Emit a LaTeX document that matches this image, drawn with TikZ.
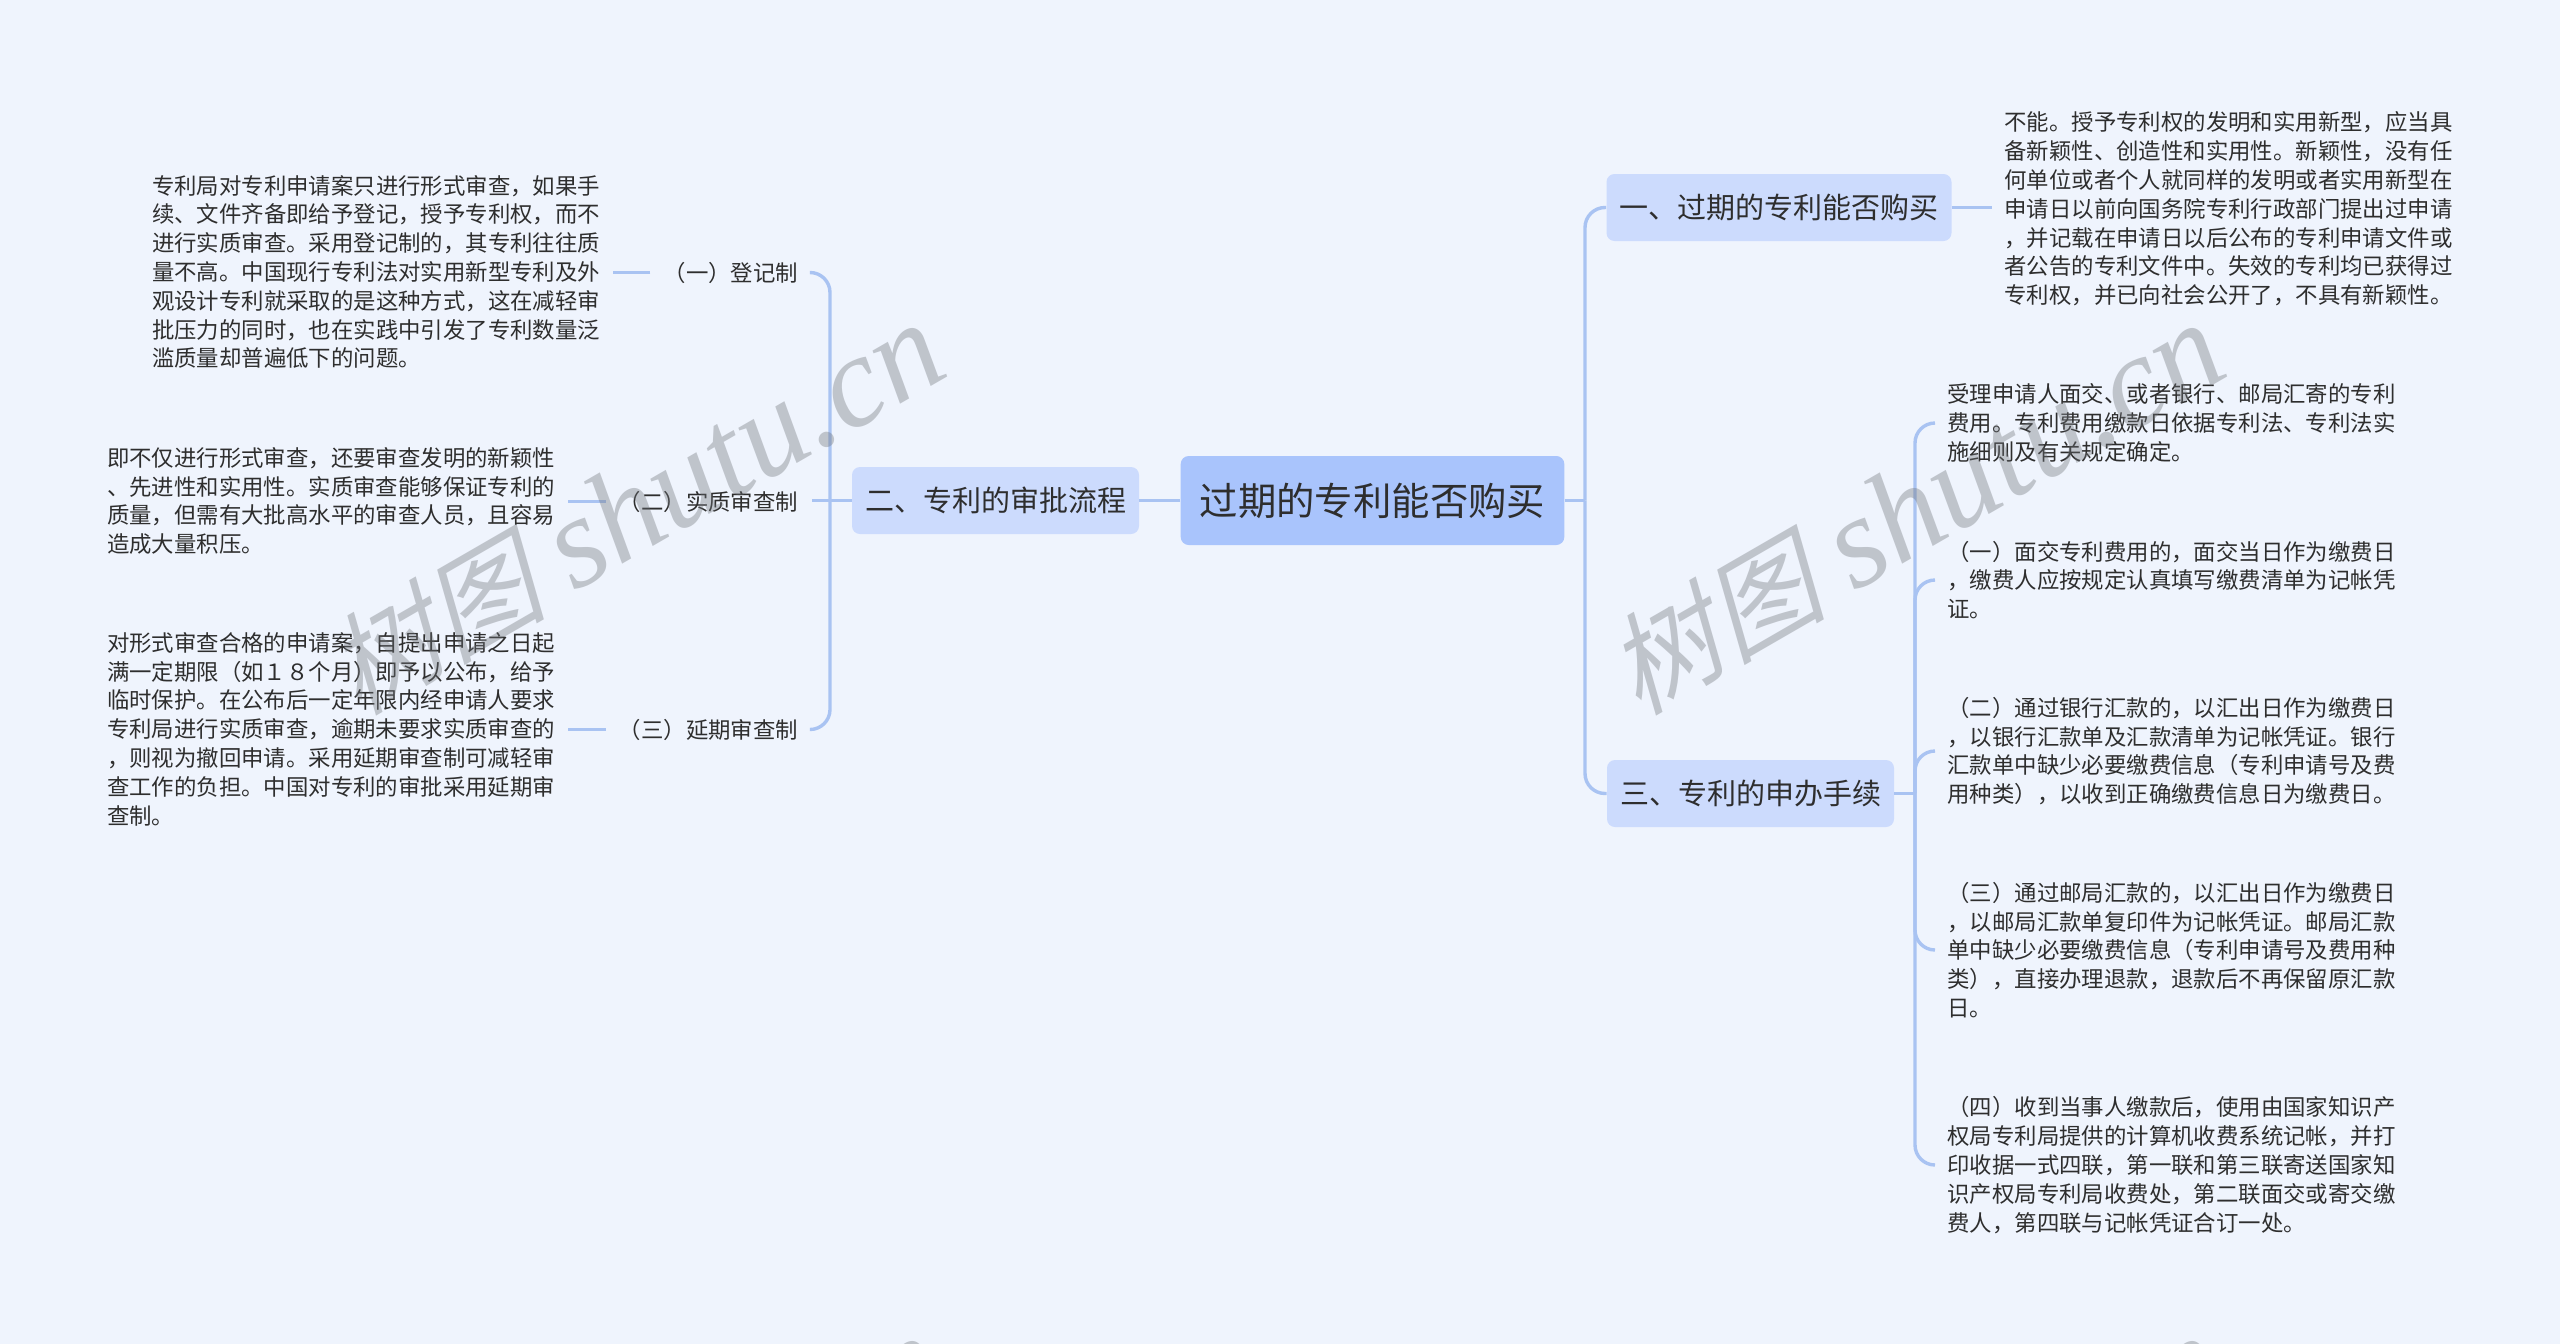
\documentclass[tikz,border=0pt]{standalone}
\usepackage{fontspec}
\usepackage{xcolor}
\setmainfont{Noto Sans CJK SC}
\newfontfamily\wmcjk[FakeSlant=0.25]{Noto Sans CJK SC}
\newfontfamily\wmlatin{Liberation Serif}
\definecolor{bgblue}{HTML}{EFF4FD}
\definecolor{rootblue}{HTML}{A9C4FC}
\definecolor{branchblue}{HTML}{CCDBFD}
\definecolor{linkblue}{HTML}{A9C3F2}
\definecolor{inkgray}{HTML}{2E2E2E}
\definecolor{wmgray}{HTML}{6E7278}
\tikzset{
  rootbox/.style={fill=rootblue, rounded corners=4pt, text=inkgray, inner xsep=9.5pt, minimum height=44.5pt, font=\fontsize{19.2pt}{23pt}\selectfont},
  branchbox/.style={fill=branchblue, rounded corners=4pt, text=inkgray, inner xsep=6.5pt, minimum height=33.5pt, font=\fontsize{14.5pt}{18pt}\selectfont},
  midlabel/.style={text=inkgray, inner xsep=6.5pt, inner ysep=1pt, font=\fontsize{11.2pt}{14.4pt}\selectfont},
  leaftext/.style={text=inkgray, align=left, inner xsep=6pt, inner ysep=0pt, font=\fontsize{11.2pt}{14.4pt}\selectfont},
  link/.style={draw=linkblue, line width=1.7pt, rounded corners=10pt},
  wmark/.style={text=wmgray, text opacity=0.37, rotate=30, inner sep=0pt, font=\fontsize{65pt}{70pt}\selectfont}
}
\begin{document}
\begin{tikzpicture}[x=0.5pt,y=-0.5pt]
% 背景
\fill [bgblue] (0,0) rectangle (2560,1344);
\useasboundingbox (0,0) rectangle (2560,1344);
% 中心与分支
\node [rootbox] (root) at (1372.5,500.5) {过期的专利能否购买};
\node [branchbox] (patent) at (995.5,500.5) {二、专利的审批流程};
\node [branchbox] (buy) at (1779,207.5) {一、过期的专利能否购买};
\node [branchbox] (apply) at (1750.5,793.5) {三、专利的申办手续};
% 转折点
\coordinate (rootjoint) at (1585,500.5);
\coordinate (patentjoint) at (830,500.5);
\coordinate (applyjoint) at (1915,793.5);
% 左侧
\node [midlabel, anchor=east] (reg) at (811.5,272.5) {（一）登记制};
\node [midlabel, anchor=east] (sub) at (811.5,501.5) {（二）实质审查制};
\node [midlabel, anchor=east] (delay) at (811.5,729.5) {（三）延期审查制};
\node [leaftext, anchor=east] (regtext) at (612.5,272) {专利局对专利申请案只进行形式审查，如果手\\续、文件齐备即给予登记，授予专利权，而不\\进行实质审查。采用登记制的，其专利往往质\\量不高。中国现行专利法对实用新型专利及外\\观设计专利就采取的是这种方式，这在减轻审\\批压力的同时，也在实践中引发了专利数量泛\\滥质量却普遍低下的问题。};
\node [leaftext, anchor=east] (subtext) at (567.5,501) {即不仅进行形式审查，还要审查发明的新颖性\\、先进性和实用性。实质审查能够保证专利的\\质量，但需有大批高水平的审查人员，且容易\\造成大量积压。};
\node [leaftext, anchor=east] (delaytext) at (567.5,729) {对形式审查合格的申请案，自提出申请之日起\\满一定期限（如１８个月）即予以公布，给予\\临时保护。在公布后一定年限内经申请人要求\\专利局进行实质审查，逾期未要求实质审查的\\，则视为撤回申请。采用延期审查制可减轻审\\查工作的负担。中国对专利的审批采用延期审\\查制。};
% 右侧
\node [leaftext, anchor=west] (buytext) at (1992,209) {不能。授予专利权的发明和实用新型，应当具\\备新颖性、创造性和实用性。新颖性，没有任\\何单位或者个人就同样的发明或者实用新型在\\申请日以前向国务院专利行政部门提出过申请\\，并记载在申请日以后公布的专利申请文件或\\者公告的专利文件中。失效的专利均已获得过\\专利权，并已向社会公开了，不具有新颖性。};
\node [leaftext, anchor=west] (fee) at (1935,423) {受理申请人面交、或者银行、邮局汇寄的专利\\费用。专利费用缴款日依据专利法、专利法实\\施细则及有关规定确定。};
\node [leaftext, anchor=west] (feeone) at (1935,580) {（一）面交专利费用的，面交当日作为缴费日\\，缴费人应按规定认真填写缴费清单为记帐凭\\证。};
\node [leaftext, anchor=west] (feetwo) at (1935,751) {（二）通过银行汇款的，以汇出日作为缴费日\\，以银行汇款单及汇款清单为记帐凭证。银行\\汇款单中缺少必要缴费信息（专利申请号及费\\用种类），以收到正确缴费信息日为缴费日。};
\node [leaftext, anchor=west] (feethree) at (1935,950) {（三）通过邮局汇款的，以汇出日作为缴费日\\，以邮局汇款单复印件为记帐凭证。邮局汇款\\单中缺少必要缴费信息（专利申请号及费用种\\类），直接办理退款，退款后不再保留原汇款\\日。};
\node [leaftext, anchor=west] (feefour) at (1935,1165) {（四）收到当事人缴款后，使用由国家知识产\\权局专利局提供的计算机收费系统记帐，并打\\印收据一式四联，第一联和第三联寄送国家知\\识产权局专利局收费处，第二联面交或寄交缴\\费人，第四联与记帐凭证合订一处。};
% 连线
\draw [link] (root.west) -- (patent.east);
\draw [link] (root.east) -- (rootjoint);
\draw [link] (rootjoint) |- (buy.west);
\draw [link] (rootjoint) |- (apply.west);
\draw [link] (buy.east) -- (buy.east -| buytext.west);
\draw [link] (patent.west) -- (patentjoint);
\draw [link] (patentjoint) |- (reg.east);
\draw [link] (patentjoint) |- (delay.east);
\draw [link] (patentjoint) -- (sub.east |- patentjoint);
\draw [link] (reg.west) -- (reg.west -| regtext.east);
\draw [link] (sub.west) -- (sub.west -| subtext.east);
\draw [link] (delay.west) -- (delay.west -| delaytext.east);
\draw [link] (apply.east) -- (applyjoint);
\foreach \leaf in {fee,feeone,feetwo,feethree,feefour}
  \draw [link] (applyjoint) |- (\leaf.west);
% 水印
\begin{scope}
\clip (0,0) rectangle (2560,1344);
\foreach \wmx/\wmy/\wmname in {635/509/wma,1915/509/wmb,635/1522/wmc,1915/1522/wmd}
  \node [wmark] (\wmname) at (\wmx,\wmy) {{\wmcjk\fontsize{55pt}{70pt}\selectfont 树图} {\wmlatin\itshape shutu.cn}};
\end{scope}
\end{tikzpicture}
\end{document}
